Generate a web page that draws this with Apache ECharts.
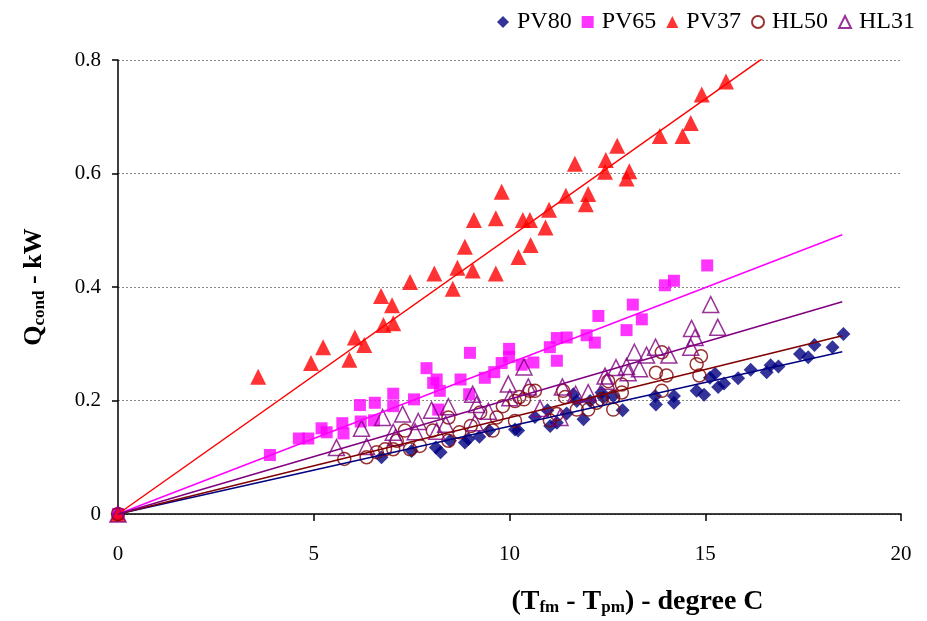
<!DOCTYPE html>
<html>
<head>
<meta charset="utf-8">
<script src="https://cdn.jsdelivr.net/npm/echarts@6/dist/echarts.min.js"></script>
<style>
html,body{margin:0;padding:0;background:#fff;}
#chart{width:927px;height:621px;}
</style>
</head>
<body>
<div id="chart"></div>
<script>
// ---- data (x = Tfm - Tpm in deg C, y = Qcond in kW) ----
const seriesNames = ['PV80', 'PV65', 'PV37', 'HL50', 'HL31'];

const PV80 = [[0,0],[6.73,0.100],[7.50,0.111],[8.12,0.117],[8.24,0.109],[8.48,0.129],[8.86,0.126],[8.95,0.132],
  [9.23,0.136],[9.48,0.147],[10.14,0.149],[10.22,0.147],[10.65,0.171],[10.97,0.183],[11.04,0.155],[11.21,0.161],
  [11.46,0.177],[11.63,0.211],[11.72,0.199],[11.89,0.167],[12.06,0.199],[12.35,0.214],[12.40,0.205],[12.65,0.208],
  [12.89,0.183],[13.72,0.208],[13.74,0.193],[14.20,0.208],[14.20,0.196],[14.78,0.217],[14.97,0.210],[15.12,0.240],
  [15.25,0.247],[15.33,0.224],[15.48,0.230],[15.84,0.239],[16.16,0.254],[16.57,0.250],[16.67,0.262],[16.87,0.260],
  [17.42,0.282],[17.63,0.276],[17.79,0.298],[18.25,0.294],[18.53,0.317]];

const PV65 = [[0,0],[3.88,0.104],[4.62,0.133],[4.86,0.133],[5.20,0.151],[5.33,0.144],[5.73,0.160],[5.76,0.142],
  [6.18,0.192],[6.20,0.163],[6.56,0.196],[6.54,0.165],[7.03,0.212],[7.03,0.190],[7.56,0.202],[7.88,0.257],
  [8.05,0.231],[8.14,0.237],[8.22,0.217],[8.18,0.184],[8.75,0.237],[8.97,0.211],[8.99,0.284],[9.37,0.240],
  [9.61,0.250],[9.80,0.266],[9.99,0.291],[9.99,0.277],[10.31,0.263],[10.61,0.267],[11.03,0.294],[11.21,0.310],
  [11.21,0.270],[11.46,0.311],[11.97,0.315],[12.18,0.302],[12.27,0.349],[12.99,0.324],[13.15,0.369],[13.38,0.343],
  [13.97,0.403],[14.20,0.411],[15.05,0.438]];

const PV37 = [[0,0],[3.58,0.242],[4.93,0.266],[5.24,0.294],[5.91,0.272],[6.05,0.311],[6.29,0.298],[6.72,0.384],
  [6.78,0.333],[7.00,0.368],[7.03,0.336],[7.46,0.409],[8.08,0.424],[8.55,0.397],[8.67,0.434],[8.86,0.471],
  [9.06,0.429],[9.09,0.518],[9.65,0.424],[9.65,0.521],[9.80,0.568],[10.23,0.453],[10.34,0.518],[10.52,0.518],
  [10.54,0.474],[10.92,0.505],[11.01,0.536],[11.44,0.561],[11.67,0.617],[11.95,0.546],[12.01,0.564],[12.44,0.603],
  [12.46,0.624],[12.75,0.649],[12.99,0.591],[13.06,0.604],[13.84,0.666],[14.42,0.666],[14.63,0.689],[14.91,0.739],
  [15.53,0.762]];

const HL50 = [[0,0],[5.78,0.097],[6.35,0.100],[6.61,0.109],[6.82,0.114],[7.03,0.114],[7.12,0.129],[7.33,0.147],
  [7.46,0.114],[7.71,0.120],[8.04,0.147],[8.44,0.129],[8.44,0.170],[8.72,0.144],[9.01,0.155],[9.25,0.179],
  [9.57,0.147],[9.67,0.170],[9.83,0.190],[10.14,0.164],[10.14,0.199],[10.25,0.206],[10.37,0.202],[10.52,0.217],
  [10.65,0.217],[11.03,0.165],[11.21,0.176],[11.37,0.217],[11.42,0.206],[11.72,0.184],[12.01,0.184],[12.22,0.196],
  [12.35,0.202],[12.52,0.234],[12.65,0.206],[12.65,0.184],[12.87,0.228],[12.87,0.214],[13.74,0.249],[13.89,0.285],
  [13.89,0.217],[14.01,0.244],[14.78,0.264],[14.85,0.244],[14.89,0.278]];

const HL31 = [[0,0],[5.58,0.117],[6.22,0.151],[6.35,0.119],[6.76,0.170],[7.03,0.144],[7.09,0.135],[7.27,0.176],
  [7.59,0.145],[7.67,0.163],[8.01,0.183],[8.14,0.146],[8.37,0.158],[8.44,0.189],[9.06,0.211],[9.12,0.161],
  [9.16,0.193],[9.46,0.181],[9.97,0.229],[10.01,0.205],[10.37,0.259],[10.48,0.224],[10.78,0.186],[11.29,0.170],
  [11.35,0.224],[11.69,0.211],[12.01,0.214],[12.44,0.243],[12.48,0.234],[12.72,0.258],[12.99,0.260],[13.03,0.249],
  [13.19,0.285],[13.32,0.256],[13.50,0.280],[13.73,0.294],[14.07,0.280],[14.63,0.294],[14.65,0.327],[14.74,0.311],
  [15.14,0.369],[15.32,0.329]];

// trend lines through origin: end point read at x = 18.5
const trendX = [0, 18.5];
const trendPV80 = [0, 0.286];
const trendPV65 = [0, 0.492];
const trendPV37 = [0, 0.902];
const trendHL50 = [0, 0.314];
const trendHL31 = [0, 0.374];

const xTicks = [0, 5, 10, 15, 20];
const yTicks = [0, 0.2, 0.4, 0.6, 0.8];

// ---- chart ----
const FONT = '"Liberation Serif", "Times New Roman", serif';
const colors = {PV80:'#000080', PV65:'#FF00FF', PV37:'#FF0000', HL50:'#800000', HL31:'#800080'};
const pts = {PV80, PV65, PV37, HL50, HL31};
const trends = {PV80: trendPV80, PV65: trendPV65, PV37: trendPV37, HL50: trendHL50, HL31: trendHL31};
const markers = {
  PV80: {symbol:'diamond', size:14, filled:true},
  PV65: {symbol:'rect', size:12, filled:true},
  PV37: {symbol:'triangle', size:16, filled:true},
  HL50: {symbol:'circle', size:13, filled:false},
  HL31: {symbol:'triangle', size:16, filled:false}
};

const series = [];
seriesNames.forEach(n => {
  series.push({
    name: n + ' trend',
    type: 'line',
    data: trendX.map((x, i) => [x, trends[n][i]]),
    symbol: 'none',
    lineStyle: {color: colors[n], width: 1.5},
    clip: true,
    silent: true,
    z: 3
  });
});
seriesNames.forEach(n => {
  const m = markers[n];
  series.push({
    name: n,
    type: 'scatter',
    data: pts[n],
    symbol: m.symbol,
    symbolSize: m.size,
    itemStyle: m.filled ? {color: colors[n]} : {color: 'rgba(255,255,255,0)', borderColor: colors[n], borderWidth: 1.5},
    z: 2
  });
});

const chart = echarts.init(document.getElementById('chart'), null, {renderer: 'canvas'});
chart.setOption({
  animation: false,
  backgroundColor: '#fff',
  grid: {left: 118, right: 26, top: 60, bottom: 104, containLabel: false},
  legend: {
    data: seriesNames.map(n => ({name: n, icon: markers[n].symbol})),
    right: 7, top: 5,
    itemWidth: 12, itemHeight: 12, itemGap: 10,
    textStyle: {fontFamily: FONT, fontSize: 24, color: '#000', padding: [0, 0, 0, 3]}
  },
  xAxis: {
    type: 'value', min: xTicks[0], max: xTicks[xTicks.length - 1], interval: 5,
    axisLine: {show: true, onZero: false, lineStyle: {color: '#000', width: 1.5}},
    axisTick: {show: true, inside: false, length: 7, lineStyle: {color: '#000', width: 1.5}},
    axisLabel: {fontFamily: FONT, fontSize: 21, color: '#000', margin: 30},
    splitLine: {show: false},
    name: '(T{s|fm} - T{s|pm}) - degree C',
    nameLocation: 'middle', nameGap: 74,
    nameTextStyle: {
      fontFamily: FONT, fontSize: 28, fontWeight: 'bold', color: '#000', padding: [0, 0, 0, 256],
      rich: {s: {fontFamily: FONT, fontSize: 17, fontWeight: 'bold', color: '#000', padding: [11, 0, 0, 0]}}
    }
  },
  yAxis: {
    type: 'value', min: yTicks[0], max: yTicks[yTicks.length - 1], interval: 0.2,
    axisLine: {show: true, onZero: false, lineStyle: {color: '#000', width: 1.5}},
    axisTick: {show: true, inside: false, length: 6, lineStyle: {color: '#000', width: 1.5}},
    axisLabel: {fontFamily: FONT, fontSize: 21, color: '#000', margin: 17},
    splitLine: {show: true, lineStyle: {color: '#888', type: [2, 2], width: 1}},
    name: 'Q{s|cond} - kW',
    nameLocation: 'middle', nameGap: 70, nameRotate: 90,
    nameTextStyle: {
      fontFamily: FONT, fontSize: 26, fontWeight: 'bold', color: '#000',
      rich: {s: {fontFamily: FONT, fontSize: 17, fontWeight: 'bold', color: '#000', padding: [10, 0, 0, 0]}}
    }
  },
  series: series
});
</script>
</body>
</html>
